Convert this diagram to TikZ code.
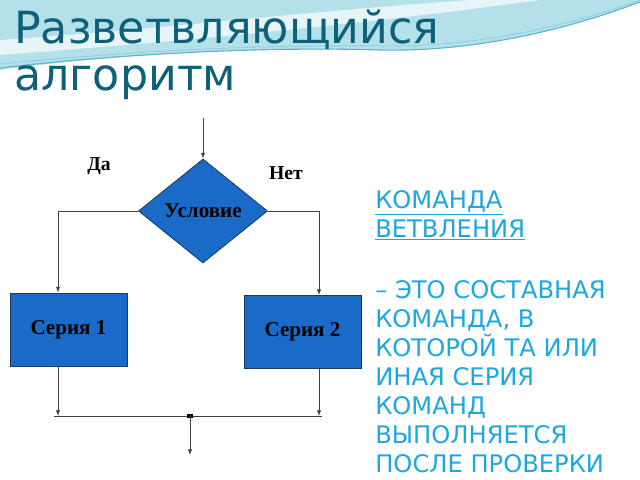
\documentclass[tikz,border=0pt]{standalone}
\usepackage{fontspec}
\setmainfont{Liberation Serif}
\newfontfamily\slidefont{DejaVu Sans}
\usepackage{tikz}
\usetikzlibrary{arrows.meta, shapes.geometric}
\definecolor{titleteal}{HTML}{0E6079}
\definecolor{textblue}{HTML}{1CA7E0}
\definecolor{boxblue}{HTML}{1A6BC8}
\definecolor{boxedge}{HTML}{1B3A5C}
\definecolor{waveblue}{HTML}{B4E0EA}
\definecolor{wavedark}{HTML}{5DB5CB}
\tikzset{flow/.style={draw=black!75, line width=0.5pt, -{Latex[length=4pt, width=3pt]}}}
\tikzset{plain/.style={draw=black!75, line width=0.5pt}}
\tikzset{decision/.style={diamond, draw=boxedge, fill=boxblue, line width=0.6pt, inner sep=0pt, aspect=1.25, minimum width=3.225cm, minimum height=2.6cm, font=\bfseries\fontsize{15}{17}\selectfont}}
\tikzset{series/.style={rectangle, draw=boxedge, fill=boxblue, line width=0.6pt, minimum width=2.925cm, minimum height=1.825cm, font=\bfseries\fontsize{15}{17}\selectfont}}
\tikzset{branch/.style={font=\bfseries\fontsize{14}{16}\selectfont}}
\tikzset{title/.style={text=titleteal, inner sep=0pt, anchor=base west, font=\slidefont\fontsize{31.5}{36}\selectfont}}

\begin{document}
\begin{tikzpicture}[x=0.025cm, y=-0.025cm]
            \useasboundingbox (0, 0) rectangle (640, 480);
            % wave at the top
            \fill[waveblue] (0, 0) -- (640, 0) -- (640, 2) .. controls (560, 32) and (470, 52) .. (380, 50) .. controls (250, 46) and (100, 56) .. (0, 70) -- cycle;
            \fill[white, opacity=0.7] (0, 40) .. controls (150, 30) and (300, 12) .. (470, 0) -- (540, 0) .. controls (380, 22) and (200, 40) .. (0, 55) -- cycle;
            \draw[wavedark, line width=0.8pt] (0, 68) .. controls (100, 56) and (250, 46) .. (380, 50) .. controls (470, 52) and (560, 32) .. (640, 2);
            \draw[wavedark!70, line width=0.5pt] (0, 64) .. controls (120, 52) and (260, 44) .. (390, 46) .. controls (480, 46) and (570, 26) .. (640, 0);
            \node[title] (head1) at (14, 43) {Разветвляющийся};
            \node[title] (head2) at (14, 90) {алгоритм};
            % flowchart
            \node[decision] (cond) at (203, 211) {Условие};
            \node[series] (ser1) at (68.5, 329.5) {Серия 1};
            \node[series] (ser2) at (302.5, 332) {Серия 2};
            \node[branch] (yes) at (99, 166) {Да};
            \node[branch] (no) at (286, 173) {Нет};
            \coordinate (entry) at (203, 118);
            \coordinate (yesturn) at (58, 211);
            \coordinate (noturn) at (319, 211);
            \coordinate (join) at (190, 416);
            \coordinate (exit) at (190, 455);
            \draw[flow] (entry) -- (cond.north);
            \draw[flow] (cond.west) -- (yesturn) -- (yesturn |- ser1.north);
            \draw[flow] (cond.east) -- (noturn) -- (noturn |- ser2.north);
            \draw[flow] (yesturn |- ser1.south) -- (yesturn |- join);
            \draw[flow] (noturn |- ser2.south) -- (noturn |- join);
            \draw[plain] ([xshift=-3pt]yesturn |- join) -- ([xshift=2pt]noturn |- join);
            \fill[black] ([xshift=-2pt, yshift=-1.5pt]join) rectangle ([xshift=2pt, yshift=1.5pt]join);
            \draw[flow] (join) -- (exit);
            % text on the right
            \node[anchor=north west, inner sep=0pt, align=left, text=textblue, font=\slidefont\fontsize{17.2}{20.6}\selectfont] (note) at (375, 190)
                {\underline{КОМАНДА}\\ \underline{ВЕТВЛЕНИЯ}\\[23pt]
                 – ЭТО СОСТАВНАЯ\\ КОМАНДА, В\\ КОТОРОЙ ТА ИЛИ\\ ИНАЯ СЕРИЯ\\ КОМАНД\\ ВЫПОЛНЯЕТСЯ\\ ПОСЛЕ ПРОВЕРКИ};
        \end{tikzpicture}
\end{document}
